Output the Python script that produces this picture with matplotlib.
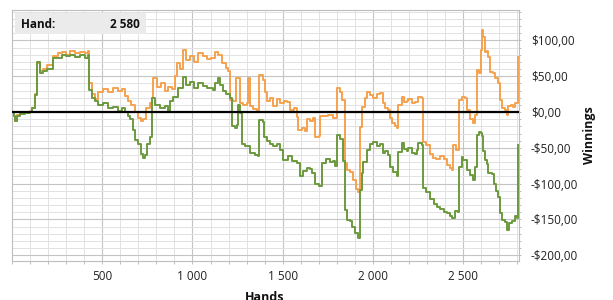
import matplotlib
matplotlib.use("Agg")
import matplotlib.pyplot as plt
from matplotlib.ticker import MultipleLocator, FuncFormatter, FixedLocator

plt.rcParams['font.family'] = ['Open Sans', 'DejaVu Sans']

# ---- data (hands, winnings $) ----
orange_hands = [0, 13, 18, 29, 46, 74, 101, 112, 129, 140, 157, 173, 195, 229, 256, 279, 301, 323, 350, 378, 406, 422,
                428, 445, 461, 478, 505, 533, 561, 588, 610, 627, 644, 660, 683, 699, 716, 727, 744, 766, 777, 782,
                804, 827, 849, 865, 888, 904, 915, 932, 949, 965, 987, 1009, 1032, 1059, 1081, 1104, 1126, 1142, 1164,
                1187, 1198, 1209, 1225, 1242, 1253, 1264, 1280, 1303, 1308, 1319, 1336, 1358, 1369, 1391, 1402, 1414,
                1430, 1447, 1469, 1486, 1508, 1524, 1541, 1563, 1580, 1585, 1607, 1624, 1635, 1652, 1668, 1679, 1702,
                1707, 1724, 1751, 1779, 1801, 1818, 1829, 1846, 1857, 1873, 1890, 1906, 1917, 1928, 1939, 1956, 1967,
                1984, 2000, 2022, 2039, 2055, 2066, 2083, 2094, 2105, 2122, 2133, 2139, 2161, 2172, 2188, 2194, 2216,
                2233, 2249, 2271, 2277, 2294, 2316, 2333, 2349, 2371, 2393, 2410, 2427, 2438, 2443, 2460, 2476, 2493,
                2510, 2521, 2538, 2554, 2565, 2576, 2587, 2598, 2604, 2609, 2620, 2631, 2637, 2648, 2665, 2676, 2692,
                2704, 2715, 2731, 2742, 2748, 2765, 2776, 2787, 2798, 2803]
orange_vals = [0, -5, -12, -4, -2, 0, 1, 5, 25, 68, 57, 60, 65, 78, 82, 84, 80, 85, 82, 84, 83, 85,
               40, 25, 18, 28, 32, 28, 33, 30, 32, 22, 15, 10, 0, -8, -12, -10, 5, 12, 19, 47,
               35, 40, 30, 35, 32, 50, 68, 60, 86, 72, 78, 70, 82, 78, 74, 76, 84, 80, 68,
               62, 57, 17, 15, 48, 48, 13, 10, 12, 48, 8, 4, 2, 52, 45, 28, 15,
               20, 8, 18, 12, 16, 14, 3, 5, -7, -25, -22, -27, -10, -12, -8, -35, -34,
               -5, -6, -4, -8, 33, 28, 17, -71, -81, -84, -95, -107, -112, -21, 7, 20, 28,
               24, 20, 25, 27, 12, 5, 3, -8, -15, -20, -22, 10, 21, 14, 16, 18, 12,
               14, 21, 20, -42, -46, -58, -64, -66, -62, -66, -74, -78, -81, -46, -53, 17, 21,
               20, 3, -10, -15, -4, 59, 55, 86, 114, 105, 84, 85, 77, 56, 55, 47, 40,
               17, 5, 3, -4, 8, 10, 7, 13, 12, 77]

green_hands = [0, 13, 18, 29, 46, 74, 101, 112, 129, 140, 157, 173, 195, 229, 256, 279, 301, 323, 350, 378, 406, 422,
               428, 445, 461, 478, 505, 533, 561, 588, 610, 627, 644, 655, 672, 683, 699, 716, 727, 738, 749, 766,
               777, 793, 821, 849, 865, 876, 893, 921, 949, 965, 987, 1009, 1032, 1059, 1081, 1115, 1126, 1142, 1153,
               1170, 1187, 1209, 1220, 1236, 1247, 1253, 1264, 1275, 1292, 1319, 1347, 1364, 1369, 1391, 1397, 1414,
               1430, 1447, 1469, 1486, 1502, 1530, 1552, 1580, 1596, 1613, 1635, 1652, 1663, 1679, 1702, 1718, 1740,
               1762, 1779, 1790, 1801, 1818, 1834, 1846, 1857, 1873, 1884, 1901, 1917, 1928, 1939, 1945, 1967, 1984,
               2000, 2022, 2039, 2055, 2066, 2083, 2094, 2111, 2133, 2139, 2161, 2172, 2188, 2194, 2216, 2233, 2244,
               2249, 2271, 2277, 2294, 2316, 2338, 2355, 2371, 2393, 2410, 2427, 2438, 2454, 2471, 2476, 2493, 2499,
               2521, 2538, 2554, 2565, 2576, 2587, 2598, 2604, 2609, 2620, 2631, 2637, 2659, 2670, 2681, 2692, 2704,
               2715, 2731, 2742, 2754, 2770, 2787, 2798, 2803]
green_vals = [0, -5, -13, -6, -3, -1, 0, 5, 24, 70, 54, 57, 60, 75, 76, 80, 78, 80, 77, 79, 75, 80,
              31, 20, 16, 10, 12, 5, 7, 2, 5, 0, -5, -10, -25, -39, -45, -58, -64, -60, -45, -35,
              19, 10, 5, 8, 0, 15, 21, 33, 49, 38, 42, 33, 41, 37, 33, 31, 40, 47, 38,
              29, 25, 19, -20, -22, -18, 10, -2, -44, -48, -57, -60, -62, -11, -14, -35, -40,
              -45, -48, -44, -53, -67, -62, -69, -71, -90, -82, -78, -80, -85, -100, -103, -71, -66,
              -70, -68, -75, -32, -37, -68, -137, -151, -152, -160, -169, -176, -109, -85, -70, -53, -45,
              -42, -48, -44, -57, -55, -60, -77, -84, -90, -56, -43, -52, -55, -50, -57, -58, -53,
              -43, -46, -106, -111, -122, -128, -132, -136, -139, -141, -145, -148, -138, -140, -77, -63, -67,
              -81, -88, -95, -77, -32, -28, -29, -33, -55, -67, -72, -85, -86, -100, -110, -118, -141,
              -151, -153, -165, -155, -152, -145, -148, -46]

x_major_ticks = [500, 1000, 1500, 2000, 2500]
y_major_ticks = [-200, -150, -100, -50, 0, 50, 100]
hover_label = "Hand:"
hover_value = "2 580"

ORANGE = '#F5A24E'
GREEN = '#6B9A3D'

fig = plt.figure(figsize=(6.13, 3.0), dpi=100)
ax = fig.add_axes([12/613, 1 - 261/300, (519-12)/613, (261-10)/300])

ax.set_xlim(0, 2809)
ax.set_ylim(-208, 142.5)

ax.plot(orange_hands, orange_vals, drawstyle='steps-post', color=ORANGE, lw=1.4, zorder=3)
ax.plot(green_hands, green_vals, drawstyle='steps-post', color=GREEN, lw=1.4, zorder=4)
ax.axhline(0, color='black', lw=1.6, zorder=5)

ax.xaxis.set_major_locator(FixedLocator(x_major_ticks))
ax.xaxis.set_minor_locator(MultipleLocator(100))
ax.yaxis.set_major_locator(FixedLocator(y_major_ticks))
ax.yaxis.set_minor_locator(MultipleLocator(10))

ax.xaxis.set_major_formatter(FuncFormatter(lambda v, p: f"{int(v):,}".replace(',', ' ')))
def yfmt(v, p):
    s = f"${abs(v):.2f}".replace('.', ',')
    return ('-' + s) if v < 0 else s
ax.yaxis.set_major_formatter(FuncFormatter(yfmt))

ax.yaxis.tick_right()
ax.yaxis.set_label_position('right')

ax.grid(which='major', color='#c4c4c4', lw=0.8, zorder=0)
ax.grid(which='minor', color='#e2e2e2', lw=0.7, zorder=0)
ax.set_axisbelow(True)

for s in ax.spines.values():
    s.set_color('#bdbdbd')
    s.set_linewidth(0.8)

ax.tick_params(axis='x', which='both', length=2.5, color='#bdbdbd', width=0.7, pad=4, labelsize=8.5, labelcolor='#222222')
ax.tick_params(axis='y', which='both', length=1.5, color='#bdbdbd', width=0.7, pad=7, labelsize=8.5, labelcolor='#222222')

fig.text(265/613, 1 - 291/300, "Hands", ha='center', va='top', fontsize=9, fontweight='bold', color='#111111')
fig.text(590/613, 1 - 135/300, "Winnings", ha='center', va='center', rotation=90, fontsize=9, fontweight='bold', color='#111111')

# hover box
from matplotlib.patches import Rectangle
fig.patches.append(Rectangle((15/613, 1 - 34/300), (146-15)/613, (34-13)/300, transform=fig.transFigure,
                             facecolor='#ebebeb', edgecolor='none', zorder=10))
fig.text(21/613, 1 - 24/300, hover_label, ha='left', va='center', fontsize=8.5, fontweight='bold', color='#111111', zorder=11)
fig.text(140/613, 1 - 24/300, hover_value, ha='right', va='center', fontsize=8.5, fontweight='bold', color='#111111', zorder=11)

fig.savefig('out.png', dpi=100)
